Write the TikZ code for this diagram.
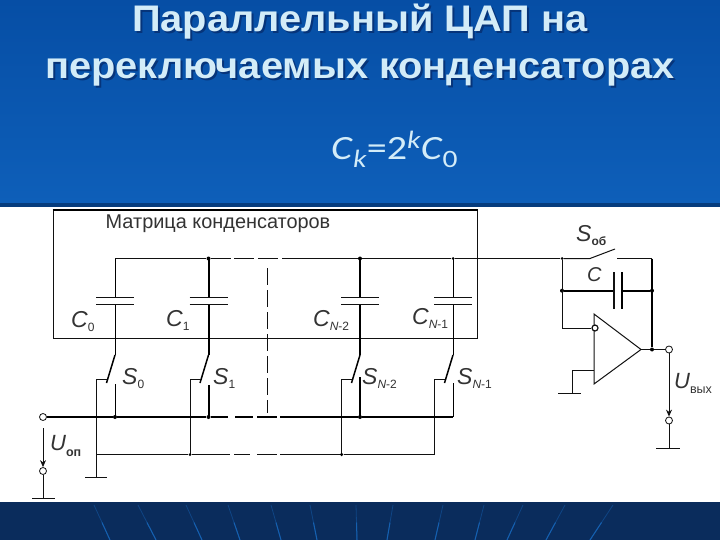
\documentclass[tikz,border=0pt]{standalone}
\usepackage{fontspec}
\setmainfont{Liberation Sans}
\newfontfamily\carl{Carlito}
\usetikzlibrary{arrows.meta}
\definecolor{ttl}{HTML}{D3ECF8}
\definecolor{ttlsh}{HTML}{06347A}
\definecolor{navy}{HTML}{0A2C5C}
\definecolor{ray}{HTML}{0F4585}
\definecolor{raylo}{HTML}{1560B0}
\definecolor{ink}{HTML}{111111}
\definecolor{lbl}{HTML}{333333}
\definecolor{hdtop}{HTML}{064EA5}
\definecolor{hdbot}{HTML}{0E5FB9}
\definecolor{hdline}{HTML}{063C7D}
\tikzset{
 wire/.style={draw=ink,line width=1pt},
 thick wire/.style={draw=black,line width=2pt},
 plate/.style={draw=ink,line width=1pt},
 dot/.style={circle,fill=black,inner sep=0pt,minimum size=4pt},
 term/.style={circle,draw=ink,fill=white,line width=0.8pt,inner sep=0pt,minimum size=7pt},
 title/.style={font=\bfseries\fontsize{37}{40}\selectfont,inner sep=0pt,anchor=base},
 lab/.style={text=lbl,inner sep=0pt,anchor=base west},
 big/.style={lab,font=\fontsize{23}{26}\selectfont\itshape},
 arroww/.style={wire,-{Stealth[length=7pt,width=6pt]}},
 rays/.style={draw=ray,line width=0.8pt},
 rayslo/.style={draw=raylo,line width=1pt}
}
\newcommand{\subt}[1]{\raisebox{-4pt}{\fontsize{12}{14}\selectfont\upshape #1}}
\newcommand{\widen}[1]{\scalebox{1.075}[1]{#1}}
\begin{document}
\begin{tikzpicture}[x=1pt,y=-1pt]
\useasboundingbox (0,0) rectangle (720,540);
\shade[top color=hdtop,bottom color=hdbot] (0,0) rectangle (720,203);
\fill[hdline] (0,203) rectangle (720,207);
\fill[white] (0,207) rectangle (720,502);
\fill[navy] (0,502) rectangle (720,540);
\foreach \a/\b in {94/110,138/156,186/202,228/240,271/281,310/317,356/357,393/387,443/435,484/475,523/507,565/546,613/590}{
  \draw[rays] (\a,505) -- (\b,540);
  \draw[rayslo] ({0.5*\a+0.5*\b},522.5) -- (\b,540);
}
% titles
\node[title,text=ttlsh] at (362,34) {\widen{Параллельный ЦАП на}};
\node[title,text=ttlsh] at (362,81) {\widen{переключаемых конденсаторах}};
\node[title,text=ttl] (t1) at (360,32) {\widen{Параллельный ЦАП на}};
\node[title,text=ttl] (t2) at (360,79) {\widen{переключаемых конденсаторах}};
\node[inner sep=0pt,anchor=base west,text=ttl,font=\carl\fontsize{34}{36}\selectfont] (f) at (331,160) {\scalebox{1.18}[1]{\textit{C}\raisebox{-8pt}{\fontsize{25}{28}\selectfont\textit{k}}=2\raisebox{11pt}{\fontsize{25}{28}\selectfont\textit{k}}\textit{C}\raisebox{-8pt}{\fontsize{25}{28}\selectfont 0}}};
% matrix box
\draw[draw=ink,line width=1pt] (477,210.5) -- (477,338) -- (53,338) -- (53,210.5);
\draw[black,line width=2pt] (52.5,210.5) -- (477.5,210.5);
\node[lab,font=\fontsize{19.9}{21}\selectfont] (mt) at (105.5,229) {Матрица конденсаторов};
% named points
\coordinate (r0) at (115,258.5);
\node[dot] (r1) at (208.5,258.5) {};
\node[dot] (r2) at (360,258.5) {};
\node[dot,minimum size=3pt] (r3) at (453,258.5) {};
\node[dot,minimum size=3pt] (rj) at (562,258.5) {};
\coordinate (b0) at (115,417);
\node[dot] (b0d) at (115,417) {};
\node[dot] (b1) at (208.5,417) {};
\node[dot] (b2) at (360,417) {};
\coordinate (b3) at (453,417);
\node[term] (uin) at (43,417) {};
% top rail
\draw[wire] (r0) -- (r1);
\draw[wire] (r1) -- +(22,0);
\draw[wire] (234,258.5) -- (254,258.5) (258,258.5) -- (278,258.5);
\draw[wire] (282,258.5) -- (r2) -- (r3) -- (rj);
% caps and switches
\foreach \n/\x/\w/\lx/\ct in {0/115/1pt/96/384,1/208.5/2pt/190/385,2/360/2pt/341.7/377,3/453/1pt/434/383}{
  \draw[black,line width=\w] (\x,258.5) -- (\x,297);
  \draw[black,line width=\w] (\x,304) -- (\x,355);
  \draw[black,line width=1.5pt] (\x,355) -- (\x-8.5,383);
  \draw[black,line width=\w] (\x,\ct) -- (\x,417);
  \draw[plate] (\x-19,297) -- (\x+19,297) (\x-19,304) -- (\x+19,304);
  \draw[wire] (\lx,454.5) -- (\lx,379) -- (\x-8,379);
}
% bus
\draw[thick wire] (uin) -- (b0d) -- (b1) -- (228,417);
\draw[thick wire] (235,417) -- (253,417) (257,417) -- (277,417);
\draw[thick wire] (280,417) -- (b2) -- (b3);
% second bus
\coordinate (g0) at (96,454.5);
\node[dot,minimum size=3pt] (g1) at (190,454.5) {};
\node[dot,minimum size=3.5pt] (g2) at (341.7,454.5) {};
\coordinate (g3) at (434,454.5);
\coordinate (g0g) at (96,477);
\draw[wire] (g0) -- (g1) -- (230,454.5);
\draw[wire] (234,454.5) -- (250,454.5) (257,454.5) -- (277,454.5);
\draw[wire] (280,454.5) -- (g2) -- (g3);
\draw[wire] (g0) -- (g0g);
\draw[wire] (85,477) -- (107,477);
% dashed separator
\coordinate (sa) at (267,268);
\coordinate (sb) at (267,413);
\draw[wire,dash pattern=on 17pt off 5pt] (sa) -- (sb);
% reference input
\node[term] (uo) at (43,471) {};
\coordinate (ug) at (43,498.5);
\draw[arroww] (43,428) -- (uo.north);
\draw[wire] (uo) -- (ug);
\draw[wire] (32,498.5) -- (55,498.5);
% amp
\coordinate (ampa) at (594,314);
\coordinate (ampb) at (594,384);
\coordinate (ampc) at (641,349.5);
\draw[wire] (ampa) -- (ampc) -- (ampb) -- cycle;
\node[term,minimum size=6pt,line width=1.2pt] (inv) at (595,328) {};
\coordinate (lj) at (562,328);
\node[dot] (cj) at (562,290.7) {};
\node[dot] (cr) at (652,290.7) {};
\node[dot] (oj) at (652,349.5) {};
\coordinate (tr) at (652,258.5);
\draw[wire] (rj) -- (lj) -- (inv);
\draw[wire] (rj) -- (590,258.5) -- (615,249);
\draw[wire] (617,258.5) -- (tr);
\draw[thick wire] (tr) -- (oj);
\draw[thick wire] (cj) -- (614,290.7);
\draw[thick wire] (622,290.7) -- (cr);
\draw[plate,line width=1.2pt] (614,272) -- (614,309);
\draw[thick wire] (622,272) -- (622,309);
% amp ground
\coordinate (ga) at (594,370);
\coordinate (gb) at (572,370);
\coordinate (gc) at (572,393);
\draw[wire] (ga) -- (gb) -- (gc);
\draw[wire] (558,393) -- (581,393);
% output
\node[term] (uout) at (669,349.5) {};
\node[term] (uout2) at (669,420.5) {};
\coordinate (og) at (669,448);
\draw[wire] (ampc) -- (oj) -- (uout);
\draw[arroww] (uout) -- (uout2.north);
\draw[wire] (uout2) -- (og);
\draw[wire] (656,448) -- (680,448);
% labels
\node[big] (c0) at (71,327) {C\subt{0}};
\node[big] (c1) at (166,326) {C\subt{1}};
\node[big] (c2) at (313,326) {C\subt{\textit{N}-2}};
\node[big] (c3) at (412,324) {C\subt{\textit{N}-1}};
\node[big] (s0) at (122,384) {S\subt{0}};
\node[big] (s1) at (213,384) {S\subt{1}};
\node[big] (s2) at (362,384) {S\subt{\textit{N}-2}};
\node[big] (s3) at (457,384) {S\subt{\textit{N}-1}};
\node[big] (so) at (576,241) {S\subt{\bfseries об}};
\node[big,font=\fontsize{20}{22}\selectfont\itshape] (cc) at (587,281) {C};
\node[big,font=\fontsize{22}{26}\selectfont\itshape] (uo1) at (50,450) {U\raisebox{-6pt}{\fontsize{12.5}{14}\selectfont\upshape\bfseries оп}};
\node[big,font=\fontsize{22}{26}\selectfont\itshape] (uv) at (674,388) {U\raisebox{-5pt}{\fontsize{12.5}{14}\selectfont\upshape вых}};
\end{tikzpicture}
\end{document}
